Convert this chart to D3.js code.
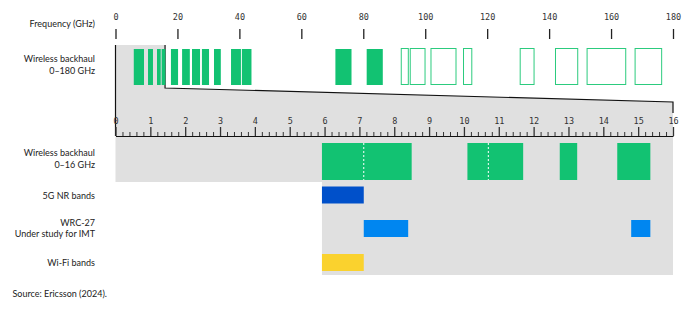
<!DOCTYPE html>
<html>
<head>
<meta charset="utf-8">
<script src="https://cdn.jsdelivr.net/npm/d3@7"></script>
<style>
  html, body { margin: 0; padding: 0; background: #fff; }
  svg { display: block; }
  .lbl { font-family: Lato, "Noto Sans", sans-serif; font-size: 9px; fill: #222; }
  .tick text { font-family: "DejaVu Sans Mono", monospace; font-size: 8.5px; fill: #333; }
</style>
</head>
<body>
<svg id="chart" width="700" height="326"></svg>
<script>
// Frequency ticks (GHz)
const wideTicks = [0, 20, 40, 60, 80, 100, 120, 140, 160, 180];
const narrowTicks = [0, 1, 2, 3, 4, 5, 6, 7, 8, 9, 10, 11, 12, 13, 14, 15, 16];

// Wireless backhaul bands, 0–180 GHz [start, end] in GHz
const wideFilled = [
  [5.9, 9.2], [10.5, 12.1], [13.4, 14.6], [14.9, 16.1],
  [17.9, 20.2], [21.5, 24.0], [24.7, 27.3], [27.9, 30.2],
  [31.8, 34.0], [37.3, 40.5], [40.8, 43.9], [71.0, 76.2], [81.1, 86.3]
];
const wideOutlined = [
  [92.1, 94.7], [95.0, 100.1], [101.7, 110.1], [112.2, 115.2],
  [130.5, 135.3], [141.9, 149.4], [152.1, 164.9], [167.6, 176.5]
];

// Detail view, 0–16 GHz
const backhaulNarrow = [[5.925, 8.5], [10.1, 11.7], [12.75, 13.25], [14.4, 15.35]];
const backhaulDividers = [7.125, 10.7];
const nrBands = [[5.925, 7.125]];
const wrcBands = [[7.125, 8.4], [14.8, 15.35]];
const wifiBands = [[5.925, 7.125]];

const zoomEnd = 16;

const C = {
  green: "#12c272",
  greenLine: "#2ccb7e",
  nr: "#0050ca",
  wrc: "#0086f0",
  wifi: "#fad22e",
  gray: "#e0e0e0"
};

const svg = d3.select("#chart");
const x0 = 115.5, x1 = 673;

const xWide = d3.scaleLinear().domain([0, 180]).range([x0, x1]);
const xNarrow = d3.scaleLinear().domain([0, 16]).range([x0, x1]);

// Grey backdrop: zoom wedge + detail rows
const zx = xWide(zoomEnd);
svg.append("path")
  .attr("fill", C.gray)
  .attr("d", `M${x0},45 L${zx},45 L${zx},88 L${x1},102 L${x1},182 L${x0},182 Z`);
svg.append("rect")
  .attr("fill", C.gray)
  .attr("x", xNarrow(5.925)).attr("y", 182)
  .attr("width", x1 - xNarrow(5.925)).attr("height", 93);

// Zoom outline
svg.append("path")
  .attr("fill", "none").attr("stroke", "#111").attr("stroke-width", 1.2)
  .attr("d", `M${zx},45 L${zx},88 L${x1},102 L${x1},113`);
svg.append("line")
  .attr("stroke", "#111").attr("stroke-width", 1.2)
  .attr("x1", x0).attr("x2", x0).attr("y1", 45).attr("y2", 136);

// Top axis
const topAxis = svg.append("g")
  .attr("transform", "translate(0,39)")
  .call(d3.axisTop(xWide).tickValues(wideTicks).tickSize(10).tickPadding(9).tickFormat(d3.format("d")));
topAxis.select(".domain").remove();
topAxis.selectAll(".tick line").attr("stroke", "#222").attr("stroke-width", 1.3);

// Wide-band bars
const wideY = 49, wideH = 36;
svg.append("g").selectAll("rect").data(wideFilled).join("rect")
  .attr("x", d => xWide(d[0])).attr("y", wideY)
  .attr("width", d => xWide(d[1]) - xWide(d[0])).attr("height", wideH)
  .attr("fill", C.green);
svg.append("g").selectAll("rect").data(wideOutlined).join("rect")
  .attr("x", d => xWide(d[0]) + 0.5).attr("y", wideY - 0.5)
  .attr("width", d => xWide(d[1]) - xWide(d[0]) - 1).attr("height", wideH)
  .attr("fill", "#fff").attr("stroke", C.greenLine).attr("stroke-width", 1);

// Detail axis with minor ticks
const minor = svg.append("g")
  .attr("transform", "translate(0,136)")
  .call(d3.axisTop(xNarrow).tickValues(d3.range(0, 80).map(i => i / 5).filter(v => v % 1 !== 0)).tickSize(4).tickFormat(""));
minor.select(".domain").remove();
minor.selectAll(".tick line").attr("stroke", "#333").attr("stroke-width", 1);

const bottomAxis = svg.append("g")
  .attr("transform", "translate(0,136)")
  .call(d3.axisTop(xNarrow).tickValues(narrowTicks).tickSize(9).tickSizeOuter(0).tickPadding(3).tickFormat(d3.format("d")));
bottomAxis.select(".domain").attr("stroke", "#111").attr("stroke-width", 1.2);
bottomAxis.selectAll(".tick line").attr("stroke", "#333").attr("stroke-width", 1.3);

// Detail rows
function bandRow(data, y, h, color) {
  svg.append("g").selectAll("rect").data(data).join("rect")
    .attr("x", d => xNarrow(d[0])).attr("y", y)
    .attr("width", d => xNarrow(d[1]) - xNarrow(d[0])).attr("height", h)
    .attr("fill", color);
}
bandRow(backhaulNarrow, 143, 37, C.green);
svg.append("g").selectAll("line").data(backhaulDividers).join("line")
  .attr("x1", d => xNarrow(d)).attr("x2", d => xNarrow(d))
  .attr("y1", 143).attr("y2", 180)
  .attr("stroke", "#fff").attr("stroke-width", 1).attr("stroke-dasharray", "2,2");
bandRow(nrBands, 186.5, 17, C.nr);
bandRow(wrcBands, 220, 17, C.wrc);
bandRow(wifiBands, 254, 17, C.wifi);

// Row labels
const rowLabels = [
  { lines: ["Frequency (GHz)"], y: 24 },
  { lines: ["Wireless backhaul", "0–180 GHz"], y: 59 },
  { lines: ["Wireless backhaul", "0–16 GHz"], y: 153 },
  { lines: ["5G NR bands"], y: 195.5 },
  { lines: ["WRC-27", "Under study for IMT"], y: 222.5 },
  { lines: ["Wi-Fi bands"], y: 263 }
];
rowLabels.forEach(r => {
  const t = svg.append("text").attr("class", "lbl").attr("text-anchor", "end")
    .attr("x", 95).attr("y", r.y).attr("dy", "0.35em");
  r.lines.forEach((s, i) => t.append("tspan").attr("x", 95).attr("dy", i === 0 ? "0.35em" : "1.28em").text(s));
});

svg.append("text").attr("class", "lbl").attr("x", 12.5).attr("y", 294).attr("dy", "0.35em")
  .text("Source: Ericsson (2024).");
</script>
</body>
</html>
